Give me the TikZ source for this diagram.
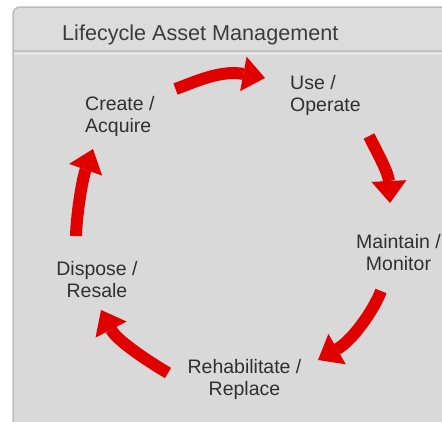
\documentclass[tikz,border=0pt]{standalone}
\usepackage{fontspec}
\setmainfont{Liberation Sans}
\usetikzlibrary{arrows.meta}
\definecolor{cyclered}{HTML}{E00000}
\definecolor{labeltext}{HTML}{303030}
\definecolor{headtext}{HTML}{3C3C3C}
\definecolor{panelfill}{HTML}{D9D9D9}
\definecolor{headfill}{HTML}{DCDCDC}
\definecolor{panelline}{HTML}{BCBCBC}
\definecolor{sepline}{HTML}{C2C2C2}

\begin{document}
\begin{tikzpicture}[x=1pt,y=-1pt,
  stagelabel/.style={inner sep=0pt, text=labeltext, font=\fontsize{19.5}{22.5}\selectfont},
  cyclearrow/.style={draw=cyclered, line width=12pt,
    -{Triangle[width=35pt,length=22pt,line width=0pt]}},
]
\fill[white] (0,0) rectangle (442,421);
\useasboundingbox (0,0) rectangle (442,421);

% panel with its header strip
\begin{scope}
  \clip[rounded corners=7pt] (13,7) rectangle (470,450);
  \fill[panelfill] (13,7) rectangle (470,450);
  \fill[headfill] (13,7) rectangle (470,51);
  \draw[sepline, line width=2pt] (13,51) -- (470,51);
  \draw[headfill!40!white, line width=1pt] (13,53.2) -- (470,53.2);
\end{scope}
\draw[panelline, line width=1.5pt, rounded corners=7pt] (13,7) rectangle (470,450);

\node[anchor=base west, inner sep=0pt, text=headtext,
      font=\fontsize{21.6}{25}\selectfont] (title) at (62,40) {Lifecycle Asset Management};

% stages of the cycle
\node[stagelabel, anchor=north west, align=left] (create) at (85,96) {Create /\\Acquire};
\node[stagelabel, anchor=north west, align=left] (use) at (290,75) {Use /\\Operate};
\node[stagelabel, anchor=north, align=center] (maintain) at (398.5,234) {Maintain /\\Monitor};
\node[stagelabel, anchor=north, align=center] (rehab) at (244.5,359) {Rehabilitate /\\Replace};
\node[stagelabel, anchor=north, align=center] (dispose) at (97,261) {Dispose /\\Resale};

% arrow ends
\coordinate (a1s) at (175.5,89);  \coordinate (a1e) at (265,78);
\coordinate (a2s) at (369,136);   \coordinate (a2e) at (390,203);
\coordinate (a3s) at (381,291);   \coordinate (a3e) at (318,360);
\coordinate (a4s) at (168,373);   \coordinate (a4e) at (101,310);
\coordinate (a5s) at (76,236);    \coordinate (a5e) at (93,149);

% curved arrows between the stages
\draw[cyclearrow] (a1s) .. controls (192.5,83) and (220,69.5) .. (a1e);
\draw[cyclearrow] (a2s) .. controls (378,154) and (388.5,173) .. (a2e);
\draw[cyclearrow] (a3s) .. controls (374,309.5) and (353,340) .. (a3e);
\draw[cyclearrow] (a4s) .. controls (151,363) and (117,341) .. (a4e);
\draw[cyclearrow] (a5s) .. controls (76.5,215) and (82,180) .. (a5e);
\end{tikzpicture}
\end{document}
